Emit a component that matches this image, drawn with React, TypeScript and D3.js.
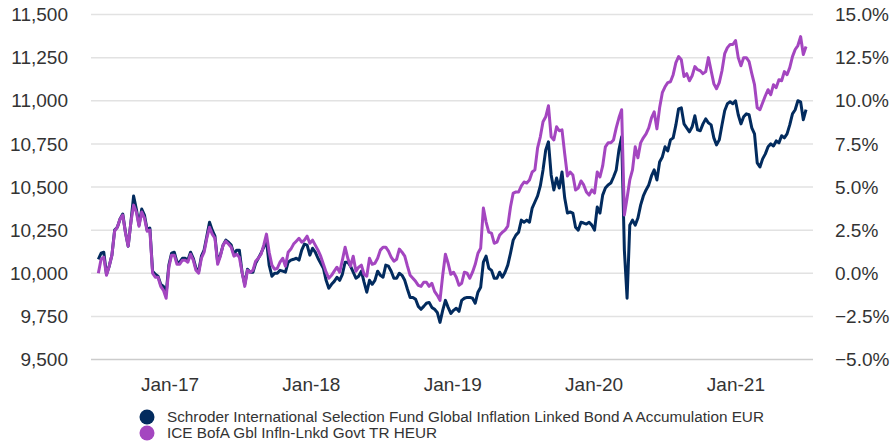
import React from 'react';
import * as d3 from 'd3';

// weekly index values (base 10,000)
const fundValues = [
  10081, 10116, 10122, 9994, 10041, 10105, 10250, 10267, 10314, 10343,
  10238, 10157, 10296, 10448, 10372, 10279, 10372, 10337, 10250, 10262,
  10012, 9994, 9983, 9936, 9924, 9884, 10047, 10116, 10122, 10064,
  10064, 10087, 10087, 10076, 10122, 10087, 10029, 10012, 10099, 10134,
  10215, 10296, 10250, 10215, 10064, 10105, 10163, 10192, 10180, 10163,
  10110, 10134, 10134, 10006, 9936, 10023, 10006, 10006, 10058, 10087,
  10116, 10151, 10192, 10047, 9983, 10000, 10000, 10017, 10012, 10006,
  10064, 10076, 10081, 10087, 10076, 10134, 10169, 10163, 10105, 10145,
  10122, 10087, 10058, 10029, 9959, 9913, 9936, 9953, 9977, 9959,
  9994, 10064, 10064, 10041, 10006, 9971, 9983, 10012, 9948, 9890,
  9959, 9936, 9959, 10012, 9988, 9977, 10047, 10041, 10012, 9971,
  9971, 10000, 9988, 9959, 9907, 9860, 9860, 9849, 9808, 9791,
  9808, 9826, 9831, 9802, 9791, 9773, 9715, 9785, 9843, 9802,
  9767, 9785, 9797, 9779, 9843, 9855, 9860, 9860, 9855, 9826,
  9890, 9919, 10064, 10099, 10029, 10017, 9971, 9971, 10006, 9977,
  10006, 10047, 10116, 10192, 10221, 10238, 10308, 10296, 10308, 10296,
  10378, 10413, 10448, 10506, 10599, 10715, 10762, 10570, 10483, 10552,
  10494, 10587, 10436, 10349, 10355, 10349, 10267, 10250, 10296, 10291,
  10285, 10296, 10279, 10250, 10384, 10349, 10453, 10494, 10512, 10523,
  10558, 10599, 10715, 10791, 10134, 9855, 10279, 10308, 10279, 10320,
  10395, 10448, 10483, 10512, 10564, 10599, 10541, 10645, 10674, 10733,
  10709, 10773, 10785, 10860, 10953, 10959, 10866, 10843, 10820, 10849,
  10913, 10831, 10826, 10866, 10895, 10872, 10860, 10785, 10744, 10773,
  10860, 10942, 10983, 10994, 10983, 11000, 10919, 10866, 10907, 10924,
  10919, 10843, 10808, 10640, 10616, 10663, 10692, 10733, 10750, 10738,
  10767, 10756, 10797, 10785, 10808, 10860, 10924, 10948, 11000, 10994,
  10890, 10948,
];

const benchmarkValues = [
  10000, 10081, 10093, 9988, 10041, 10105, 10244, 10267, 10314, 10337,
  10233, 10157, 10296, 10395, 10355, 10273, 10355, 10320, 10244, 10250,
  10000, 9977, 9977, 9924, 9901, 9855, 10035, 10105, 10105, 10052,
  10052, 10076, 10076, 10064, 10110, 10076, 10017, 10000, 10087, 10122,
  10203, 10267, 10227, 10203, 10052, 10099, 10163, 10186, 10169, 10151,
  10099, 10110, 10093, 10006, 9924, 10017, 10006, 10017, 10070, 10087,
  10110, 10163, 10227, 10122, 10047, 10023, 10029, 10064, 10087, 10041,
  10122, 10140, 10169, 10186, 10203, 10180, 10192, 10215, 10174, 10192,
  10163, 10134, 10099, 10052, 10006, 9971, 9988, 10012, 10035, 10006,
  10076, 10151, 10087, 10041, 10099, 10012, 10035, 10047, 9994, 9983,
  10087, 10052, 10058, 10087, 10134, 10151, 10151, 10128, 10093, 10070,
  10081, 10140, 10122, 10099, 10041, 9988, 9971, 9953, 9930, 9924,
  9948, 9948, 9924, 9942, 9895, 9872, 9843, 9988, 10110, 10058,
  9994, 10006, 9977, 9930, 9942, 10006, 10000, 9971, 10006, 10052,
  10116, 10145, 10378, 10297, 10238, 10233, 10174, 10180, 10221, 10238,
  10250, 10273, 10384, 10465, 10471, 10471, 10506, 10529, 10523, 10541,
  10587, 10599, 10727, 10791, 10878, 10907, 10971, 10791, 10773, 10849,
  10826, 10831, 10692, 10564, 10587, 10570, 10483, 10494, 10535, 10512,
  10471, 10453, 10483, 10465, 10587, 10558, 10622, 10733, 10756, 10756,
  10773, 10843, 10901, 10948, 10337, 10436, 10541, 10599, 10733, 10669,
  10756, 10785, 10808, 10843, 10901, 10936, 10837, 10959, 11047, 11081,
  11105, 11110, 11151, 11221, 11256, 11238, 11140, 11157, 11116, 11145,
  11198, 11180, 11174, 11157, 11169, 11250, 11174, 11099, 11070, 11105,
  11174, 11273, 11308, 11326, 11326, 11349, 11250, 11203, 11250, 11250,
  11227, 11157, 11093, 10959, 10948, 10988, 11029, 11064, 11035, 11093,
  11076, 11122, 11116, 11169, 11151, 11192, 11256, 11297, 11320, 11372,
  11268, 11314,
];

const seriesNames = [
  'Schroder International Selection Fund Global Inflation Linked Bond A Accumulation EUR',
  'ICE BofA Gbl Infln-Lnkd Govt TR HEUR',
];
const seriesColors = ['#022b5e', '#a446c0'];

const leftTicks = [9500, 9750, 10000, 10250, 10500, 10750, 11000, 11250, 11500];
const rightTicks = [-5, -2.5, 0, 2.5, 5, 7.5, 10, 12.5, 15];

const firstDate = new Date(2016, 5, 30);
const dates = fundValues.map((_, i) => d3.timeDay.offset(firstDate, 7 * i));

const W = 893;
const H = 442;
const FONT = '"Liberation Sans", Arial, sans-serif';

export default function App() {
  const x = d3.scaleTime()
    .domain([new Date(2016, 5, 11), new Date(2021, 6, 19)])
    .range([91, 813]);
  const y = d3.scaleLinear().domain([9500, 11500]).range([359.5, 14.5]);
  const yRight = d3.scaleLinear().domain([-5, 15]).range([359.5, 14.5]);

  const line = d3.line<number>()
    .x((_, i) => x(dates[i]))
    .y(d => y(d));

  const fmtLeft = d3.format(',');
  const fmtRight = d3.format('.1f');
  const fmtDate = d3.timeFormat('%b-%y');
  const xTicks = x.ticks(d3.timeYear);

  return (
    <svg width={W} height={H} style={{ position: 'absolute', left: 0, top: 0 }}
      fontFamily={FONT}>
      <rect width={W} height={H} fill="#fff" />

      {leftTicks.map((t, i) => (
        <line key={t} x1={91} x2={813} y1={y(t)} y2={y(t)}
          stroke={i === 0 ? '#cccccc' : '#e2e2e2'} strokeWidth={1.5} />
      ))}

      {leftTicks.map(t => (
        <text key={t} x={68} y={y(t)} dy="0.35em" textAnchor="end"
          fontSize={19} fill="#333">{fmtLeft(t)}</text>
      ))}

      {rightTicks.map(t => (
        <text key={t} x={835} y={yRight(t)} dy="0.35em" textAnchor="start"
          fontSize={19} fill="#333">{fmtRight(t)}%</text>
      ))}

      {xTicks.map(t => (
        <text key={t.getTime()} x={x(t)} y={384} dy="0.35em" textAnchor="middle"
          fontSize={19} fill="#333">{fmtDate(t)}</text>
      ))}

      <path d={line(fundValues) || ''} fill="none" stroke={seriesColors[0]}
        strokeWidth={3} strokeLinejoin="round" />
      <path d={line(benchmarkValues) || ''} fill="none" stroke={seriesColors[1]}
        strokeWidth={3} strokeLinejoin="round" />

      {seriesNames.map((name, i) => (
        <g key={name} transform={`translate(147,${417 + i * 16})`}>
          <circle r={7.5} fill={seriesColors[i]} />
          <text x={20} dy="0.35em" fontSize={15.3} fill="#333">{name}</text>
        </g>
      ))}
    </svg>
  );
}
